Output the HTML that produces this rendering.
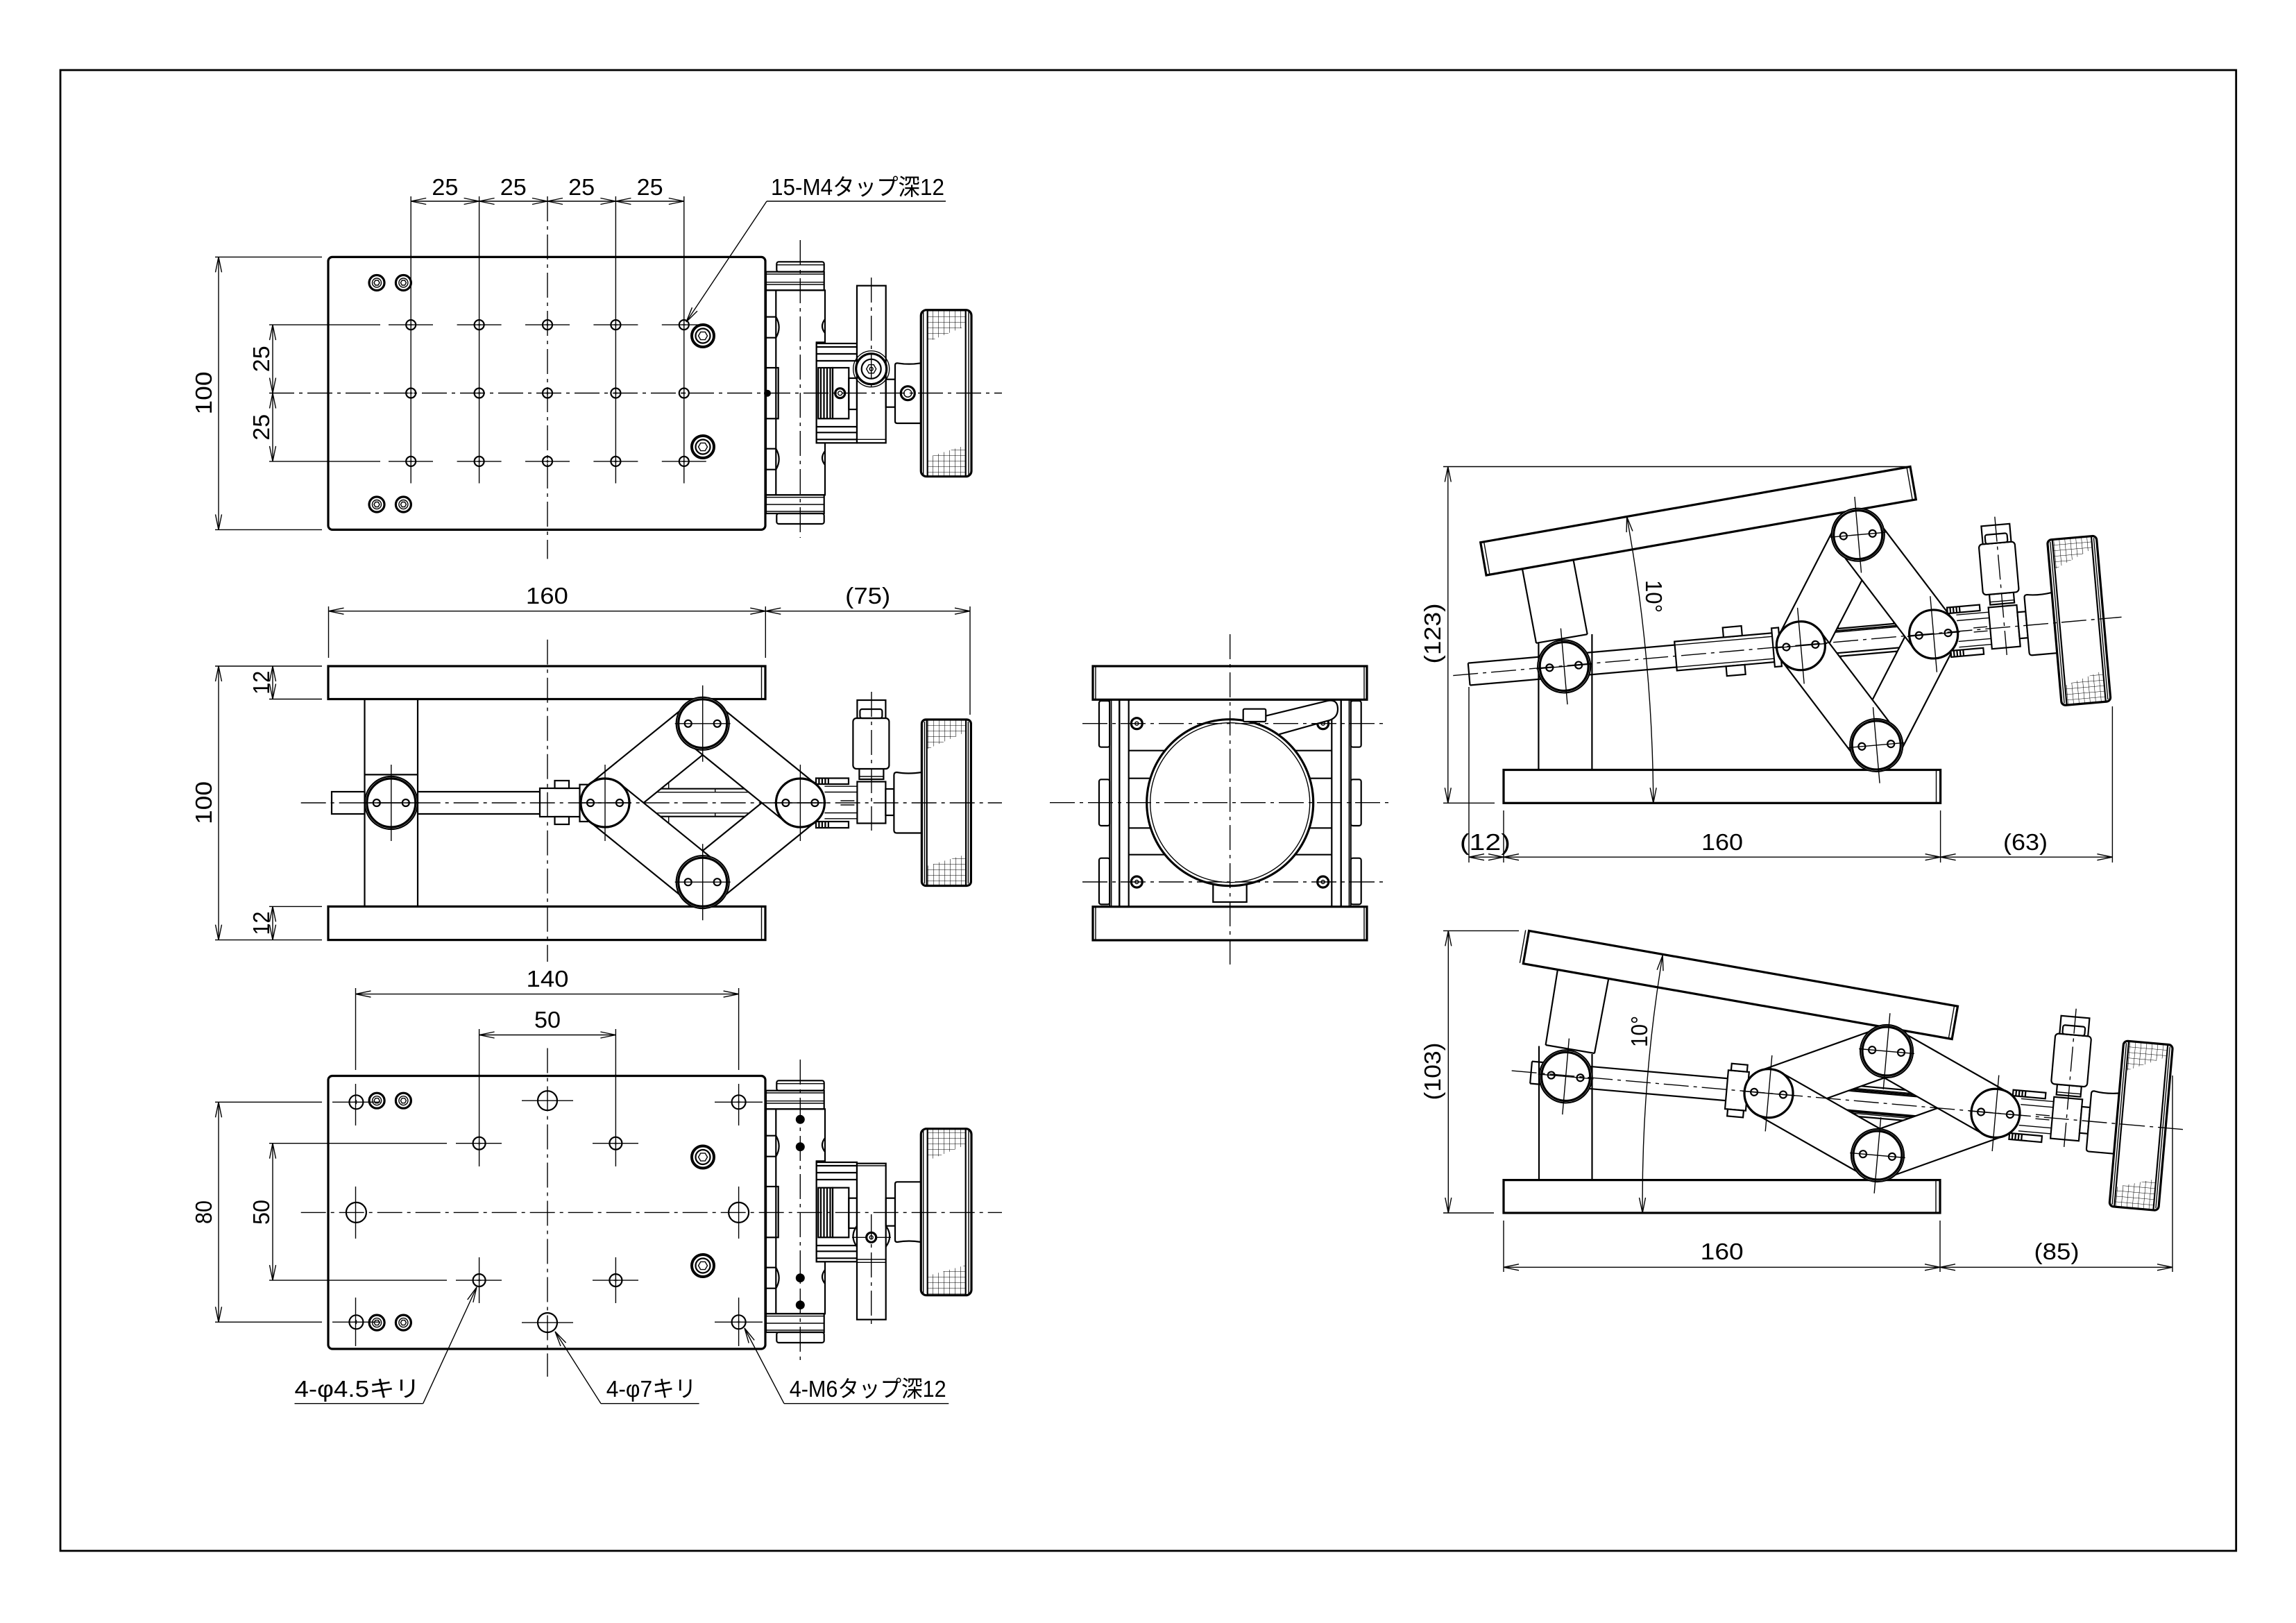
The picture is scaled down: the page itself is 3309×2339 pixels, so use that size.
<!DOCTYPE html>
<html><head><meta charset="utf-8"><style>
html,body{margin:0;padding:0;background:#fff;width:3309px;height:2339px;overflow:hidden}
svg{display:block}
.k{fill:none;stroke:#000;stroke-width:3.2}
.kw{fill:#fff;stroke:#000;stroke-width:3.2}
.m{fill:none;stroke:#000;stroke-width:2.2}
.mw{fill:#fff;stroke:#000;stroke-width:2.2}
.t{fill:none;stroke:#000;stroke-width:1.4}
.c{fill:none;stroke:#000;stroke-width:1.4;stroke-dasharray:36 7 5 7}
.d{fill:none;stroke:#000;stroke-width:1.4;marker-start:url(#a);marker-end:url(#a)}
.e{fill:none;stroke:#000;stroke-width:1.4;marker-end:url(#a)}
.lk{fill:#fff;stroke:none}
.f{fill:#000;stroke:none}
text{font-family:"Liberation Sans","Noto Sans CJK JP",sans-serif;font-size:33px;fill:#000}
.tm{text-anchor:middle}
</style></head><body>
<svg xmlns="http://www.w3.org/2000/svg" width="3309" height="2339" viewBox="0 0 3309 2339">
<defs>
<marker id="a" markerUnits="userSpaceOnUse" markerWidth="30" markerHeight="14" viewBox="-26 -7 30 14" refX="0" refY="0" orient="auto-start-reverse"><path d="M-22,-4.5L0,0L-22,4.5" fill="none" stroke="#000" stroke-width="1.4"/></marker>
<pattern id="kn" width="8" height="8" patternUnits="userSpaceOnUse"><path d="M0,0V8M0,0H8" stroke="#000" stroke-width="1.1"/></pattern>
<g id="s1"><circle r="11" class="k"/><circle r="6.5" class="t"/><polygon class="t" points="4,0 2,3.5 -2,3.5 -4,0 -2,-3.5 2,-3.5"/></g>
<g id="s2"><circle r="16" class="k" style="stroke-width:4"/><circle r="10.5" class="m"/><polygon class="t" points="6.5,0 3.25,5.6 -3.25,5.6 -6.5,0 -3.25,-5.6 3.25,-5.6"/></g>
<g id="h4"><circle r="7" class="m"/><path class="t" d="M-2.5,0H2.5M0,-2.5V2.5"/></g>
<g id="h45"><circle r="9" class="m"/><path class="t" d="M-3,0H3M0,-3V3"/></g>
<g id="h7"><circle r="14" class="m"/></g>
<g id="h6"><circle r="10" class="m"/><path class="t" d="M-3,0H3M0,-3V3"/></g>
<g id="dk"><circle r="35" class="kw"/><circle cx="-21" r="5" class="m"/><circle cx="21" r="5" class="m"/><path class="t" d="M-38,0H38M0,-55V55"/></g>
<g id="dr"><circle r="38" class="mw"/><circle r="35" class="kw"/><circle cx="-21" r="5" class="m"/><circle cx="21" r="5" class="m"/><path class="t" d="M-40,0H40M0,-55V55"/></g>
<g id="hs">
<path class="t" d="M35,-23.8H82M35,-15.5H82M35,14.5H82M35,22.8H82M58,-3H78M58,3H78"/>
<rect class="mw" x="22.6" y="-35.5" width="47" height="8.5"/>
<rect class="mw" x="22.6" y="27" width="47" height="9"/>
<path class="m" d="M27,-35.5v8.5M31.5,-35.5v8.5M36,-35.5v8.5M40.5,-35.5v8.5M27,27v9M31.5,27v9M36,27v9M40.5,27v9"/>
<rect class="mw" x="82" y="-30.5" width="41" height="60"/>
<rect class="mw" x="85" y="-49" width="35" height="15"/>
<path class="t" d="M85,-38H120"/>
<rect class="mw" x="76" y="-122" width="52" height="73" rx="5"/>
<rect class="mw" x="82" y="-148" width="41" height="26"/>
<rect class="mw" x="86" y="-135" width="32" height="13" rx="3"/>
<rect class="mw" x="123" y="-20" width="12" height="38"/>
<path class="mw" d="M139,-44Q155,-41 175,-44V43.5H139Q135,43.5 135,39.5V-40Q135,-44 139,-44Z"/>
<rect class="kw" x="175" y="-120" width="71" height="239.5" rx="6"/>
<path class="t" d="M179,-117V116.5M242,-117V116.5"/>
<path class="m" d="M182.3,-120V119.5M238.7,-120V119.5"/>
<polygon fill="url(#kn)" points="182.3,-119 238.7,-119 238.7,-102 182.3,-77"/>
<polygon fill="url(#kn)" points="182.3,91 238.7,74.4 238.7,118.5 182.3,118.5"/>
<line class="c" x1="102.6" y1="-160" x2="102.6" y2="40"/>
</g>
</defs>

<rect x="0" y="0" width="3309" height="2339" fill="#fff"/>
<rect x="87" y="101" width="3135.7" height="2134" fill="none" stroke="#000" stroke-width="2.8"/>

<!-- ================= TOP VIEW ================= -->
<rect class="k" x="473" y="370.4" width="630" height="393" rx="6"/>
<path class="t" d="M592.2,283V696.5M690.6,283V696.5M887.4,283V696.5M985.8,283V696.5"/>
<line class="c" x1="789" y1="283" x2="789" y2="805.5"/>
<line class="d" x1="592.2" y1="290" x2="690.6" y2="290"/>
<line class="d" x1="690.6" y1="290" x2="789" y2="290"/>
<line class="d" x1="789" y1="290" x2="887.4" y2="290"/>
<line class="d" x1="887.4" y1="290" x2="985.8" y2="290"/>
<text x="641.4" y="281" class="tm" textLength="38" lengthAdjust="spacingAndGlyphs">25</text>
<text x="739.8" y="281" class="tm" textLength="38" lengthAdjust="spacingAndGlyphs">25</text>
<text x="838.2" y="281" class="tm" textLength="38" lengthAdjust="spacingAndGlyphs">25</text>
<text x="936.6" y="281" class="tm" textLength="38" lengthAdjust="spacingAndGlyphs">25</text>
<path class="t" d="M1105,290H1363"/>
<line class="e" x1="1105" y1="290" x2="989" y2="464"/>
<text x="1111" y="281" textLength="250" lengthAdjust="spacingAndGlyphs">15-M4タップ深12</text>
<path class="t" d="M310,370.4H464M310,763.4H464M388,468.1H548M388,664.9H548"/>
<line class="d" x1="315" y1="370.4" x2="315" y2="763.4"/>
<line class="d" x1="393" y1="468.1" x2="393" y2="566.5"/>
<line class="d" x1="393" y1="566.5" x2="393" y2="664.9"/>
<text transform="translate(305,566.5) rotate(-90)" class="tm" textLength="62" lengthAdjust="spacingAndGlyphs">100</text>
<text transform="translate(388,517.3) rotate(-90)" class="tm" textLength="38" lengthAdjust="spacingAndGlyphs">25</text>
<text transform="translate(388,615.7) rotate(-90)" class="tm" textLength="38" lengthAdjust="spacingAndGlyphs">25</text>
<path class="t" d="M560,468.1H624M658.6,468.1H722.6M757,468.1H821M855.4,468.1H919.4M953.8,468.1H1017.8M560,664.9H624M658.6,664.9H722.6M757,664.9H821M855.4,664.9H919.4M953.8,664.9H1017.8"/>
<use href="#h4" x="592.2" y="468.1"/><use href="#h4" x="690.6" y="468.1"/><use href="#h4" x="789" y="468.1"/><use href="#h4" x="887.4" y="468.1"/><use href="#h4" x="985.8" y="468.1"/>
<use href="#h4" x="592.2" y="566.5"/><use href="#h4" x="690.6" y="566.5"/><use href="#h4" x="789" y="566.5"/><use href="#h4" x="887.4" y="566.5"/><use href="#h4" x="985.8" y="566.5"/>
<use href="#h4" x="592.2" y="664.9"/><use href="#h4" x="690.6" y="664.9"/><use href="#h4" x="789" y="664.9"/><use href="#h4" x="887.4" y="664.9"/><use href="#h4" x="985.8" y="664.9"/>
<use href="#s1" x="543" y="407.5"/><use href="#s1" x="581.4" y="407.5"/><use href="#s1" x="543" y="727"/><use href="#s1" x="581.4" y="727"/>
<use href="#s2" x="1013" y="484"/><use href="#s2" x="1013" y="644"/>
<rect class="m" x="1119.3" y="377.3" width="68.4" height="14.4" rx="3"/>
<line class="t" x1="1119.3" y1="381.7" x2="1187.7" y2="381.7"/>
<rect class="m" x="1104" y="391.7" width="83.7" height="26.6"/>
<path class="t" d="M1104,395H1187.7M1104,406.7H1187.7M1104,410H1187.7"/>
<path class="m" d="M1104,418.3V713.3M1118.3,418.3V713.3M1104,418.3H1189V493.3H1176.7V638.3H1189V713.3H1104"/>
<path class="m" d="M1104,456.7H1118.3M1104,486.7H1118.3M1104,646.7H1118.3M1104,676.7H1118.3M1118.3,456.7Q1127,471.7 1118.3,486.7M1118.3,646.7Q1127,661.7 1118.3,676.7M1189,460Q1181,470 1189,480M1189,650Q1181,660 1189,670"/>
<rect class="m" x="1104" y="530" width="17.7" height="73.3"/>
<circle class="f" cx="1106" cy="566.7" r="5"/>
<rect class="m" x="1104" y="713.3" width="83.7" height="26.7"/>
<path class="t" d="M1104,716.7H1187.7M1104,727H1187.7M1104,737H1187.7"/>
<rect class="m" x="1119.3" y="740" width="68.4" height="15" rx="3"/>
<rect class="mw" x="1176.7" y="495" width="58.3" height="143.3"/>
<path class="m" d="M1176.7,500H1235M1176.7,510H1235M1176.7,520H1235M1176.7,615H1235M1176.7,623.3H1235M1176.7,633.3H1235"/>
<rect class="m" x="1179.3" y="530" width="20.7" height="73.3"/>
<path class="m" d="M1183,530V603.3M1187.5,530V603.3M1192,530V603.3M1196.5,530V603.3"/>
<rect class="m" x="1200" y="530" width="23.3" height="73.3"/>
<circle class="k" cx="1210.7" cy="566.7" r="7"/><circle class="t" cx="1210.7" cy="566.7" r="3"/>
<rect class="m" x="1223.3" y="545" width="11.7" height="45"/>
<rect class="mw" x="1235" y="411.7" width="41.7" height="226.6"/>
<line class="t" x1="1235" y1="633.3" x2="1276.7" y2="633.3"/>
<circle class="t" cx="1255.7" cy="531.7" r="26"/>
<circle class="kw" cx="1255.7" cy="531.7" r="22"/>
<circle class="m" cx="1255.7" cy="531.7" r="14"/>
<polygon class="t" points="1262.7,531.7 1259.2,537.8 1252.2,537.8 1248.7,531.7 1252.2,525.6 1259.2,525.6"/>
<circle class="t" cx="1255.7" cy="531.7" r="2.5"/>
<line class="c" x1="1255.7" y1="400" x2="1255.7" y2="562"/>
<rect class="m" x="1276.7" y="546.7" width="13.3" height="40"/>
<path class="mw" d="M1293,523.3Q1310,526 1327.3,523.3V610H1293Q1290,610 1290,607V526.3Q1290,523.3 1293,523.3Z"/>
<circle class="k" cx="1308.3" cy="566.7" r="10"/><circle class="t" cx="1308.3" cy="566.7" r="5.5"/>
<rect class="kw" x="1327.3" y="446.7" width="72.7" height="240" rx="8"/>
<path class="t" d="M1330.7,449V684.4M1396,449V684.4"/>
<path class="m" d="M1336.7,447V686.7M1391.7,447V686.7"/>
<polygon fill="url(#kn)" points="1336.7,447.5 1391.7,447.5 1391.7,470 1343.3,490 1336.7,490"/>
<polygon fill="url(#kn)" points="1336.7,686 1391.7,686 1391.7,641.7 1343.3,656.7 1336.7,656.7"/>
<line class="c" x1="1153.3" y1="346" x2="1153.3" y2="775"/>
<line class="c" x1="388" y1="566.5" x2="1444" y2="566.5"/>

<!-- ================= SIDE VIEW ================= -->
<rect class="k" x="473" y="960" width="630" height="47.5"/>
<line class="t" x1="1097.5" y1="960" x2="1097.5" y2="1007.5"/>
<rect class="k" x="473" y="1306.4" width="630" height="48.2"/>
<line class="t" x1="1097.5" y1="1306.4" x2="1097.5" y2="1354.6"/>
<path class="m" d="M525.5,1007.5V1306.4M602,1007.5V1306.4M525.5,1116.4H602"/>
<rect class="mw" x="478" y="1141" width="47.5" height="32"/>
<path class="m" d="M602,1141H778M602,1173H778"/>
<rect class="mw" x="778" y="1136" width="61" height="41"/>
<rect class="mw" x="799.5" y="1125" width="20.5" height="11"/>
<rect class="mw" x="799.5" y="1177" width="20.5" height="11"/>
<rect class="mw" x="835.5" y="1130.7" width="11.5" height="53.3"/>
<use href="#dr" x="563.8" y="1157"/>
<g transform="translate(1012.7,1157)">
<path class="m" d="M-140,-20.3H140M-140,19.7H140"/>
<path class="t" d="M-140,-15.3H140M-140,14.7H140M-49,-30V-20M-49,20V30M18,-20.3V-15.3M18,14.7V19.7"/>
<polygon class="lk" points="-118.64,27.18 22.06,-87.02 -22.06,-141.38 -162.76,-27.18"/>
<path class="m" d="M-118.64,27.18L22.06,-87.02M-162.76,-27.18L-22.06,-141.38"/>
<polygon class="lk" points="-22.06,87.02 118.64,-27.18 162.76,27.18 22.06,141.38"/>
<path class="m" d="M-22.06,87.02L118.64,-27.18M22.06,141.38L162.76,27.18"/>
<polygon class="lk" points="-22.06,-87.02 118.64,27.18 162.76,-27.18 22.06,-141.38"/>
<path class="m" d="M-22.06,-87.02L118.64,27.18M22.06,-141.38L162.76,-27.18"/>
<polygon class="lk" points="-118.64,-27.18 22.06,87.02 -22.06,141.38 -162.76,27.18"/>
<path class="m" d="M-118.64,-27.18L22.06,87.02M-162.76,27.18L-22.06,141.38"/>
<use href="#dk" x="-140.7" y="0"/>
<use href="#dk" x="140.7" y="0"/>
<use href="#dr" x="0" y="-114.2"/>
<use href="#dr" x="0" y="114.2"/>
</g>
<use href="#hs" x="1153.4" y="1157"/>
<line class="c" x1="433.7" y1="1157" x2="1444" y2="1157"/>
<line class="c" x1="789" y1="921.8" x2="789" y2="1386"/>
<path class="t" d="M473.5,874V948M1103.3,874V948M1398,874V1030"/>
<line class="d" x1="473.5" y1="880.7" x2="1103.3" y2="880.7"/>
<line class="d" x1="1103.3" y1="880.7" x2="1398" y2="880.7"/>
<text x="788.4" y="870" class="tm" textLength="61" lengthAdjust="spacingAndGlyphs">160</text>
<text x="1250.7" y="870" class="tm" textLength="65" lengthAdjust="spacingAndGlyphs">(75)</text>
<path class="t" d="M310,960H464M388,1007.5H464M388,1306.4H464M310,1354.6H464"/>
<line class="d" x1="315" y1="960" x2="315" y2="1354.6"/>
<line class="d" x1="393" y1="960" x2="393" y2="1007.5"/>
<line class="d" x1="393" y1="1306.4" x2="393" y2="1354.6"/>
<text transform="translate(305,1157) rotate(-90)" class="tm" textLength="62" lengthAdjust="spacingAndGlyphs">100</text>
<text transform="translate(388,983.7) rotate(-90)" class="tm" textLength="34" lengthAdjust="spacingAndGlyphs">12</text>
<text transform="translate(388,1330.5) rotate(-90)" class="tm" textLength="34" lengthAdjust="spacingAndGlyphs">12</text>

<!-- ================= BOTTOM VIEW ================= -->
<rect class="k" x="473" y="1550.5" width="630" height="393.5" rx="6"/>
<path class="t" d="M512.5,1424V1542M1064.6,1424V1542M690.6,1483V1681M887.4,1483V1681"/>
<line class="d" x1="512.5" y1="1432.6" x2="1064.6" y2="1432.6"/>
<line class="d" x1="690.6" y1="1491.5" x2="887.4" y2="1491.5"/>
<text x="789" y="1422" class="tm" textLength="61" lengthAdjust="spacingAndGlyphs">140</text>
<text x="789" y="1481" class="tm" textLength="38" lengthAdjust="spacingAndGlyphs">50</text>
<path class="t" d="M310,1588.3H464M310,1905.3H464M388,1647.7H644M388,1845.1H644"/>
<line class="d" x1="315" y1="1588.3" x2="315" y2="1905.3"/>
<line class="d" x1="393" y1="1647.7" x2="393" y2="1845.1"/>
<text transform="translate(305,1747) rotate(-90)" class="tm" textLength="34" lengthAdjust="spacingAndGlyphs">80</text>
<text transform="translate(388,1747) rotate(-90)" class="tm" textLength="36" lengthAdjust="spacingAndGlyphs">50</text>
<path class="t" d="M657,1647.7H723M854,1647.7H920M657,1845.1H723M854,1845.1H920M690.6,1812V1878M887.4,1812V1878M752,1586.2H826M752,1906.1H826M479,1588.3H548M1030,1588.3H1099M479,1905.3H548M1030,1905.3H1099M512.5,1562V1622M1064.6,1562V1622M512.5,1870V1940M1064.6,1870V1940M512.5,1710V1785M1064.6,1710V1785"/>
<use href="#h45" x="690.6" y="1647.7"/><use href="#h45" x="887.4" y="1647.7"/><use href="#h45" x="690.6" y="1845.1"/><use href="#h45" x="887.4" y="1845.1"/>
<use href="#h7" x="789" y="1586.2"/><use href="#h7" x="789" y="1906.1"/>
<circle class="m" cx="513.4" cy="1747.4" r="14.5"/><circle class="m" cx="1064.6" cy="1747.4" r="14.5"/>
<use href="#h6" x="513.4" y="1588.3"/><use href="#h6" x="1064.6" y="1588.3"/><use href="#h6" x="513.4" y="1905.3"/><use href="#h6" x="1064.6" y="1905.3"/>
<use href="#s1" x="543.1" y="1586.2"/><use href="#s1" x="581.4" y="1586.2"/><use href="#s1" x="543.1" y="1906.1"/><use href="#s1" x="581.4" y="1906.1"/>
<use href="#s2" x="1013" y="1667.5"/><use href="#s2" x="1013" y="1824"/>
<path class="t" d="M424.5,2022.7H609.7M866,2022.7H1007.6M1130,2022.7H1367.3"/>
<line class="e" x1="609.7" y1="2022.7" x2="687" y2="1855"/>
<line class="e" x1="866" y1="2022.7" x2="800" y2="1919"/>
<line class="e" x1="1130" y1="2022.7" x2="1073" y2="1914"/>
<text x="424.5" y="2013" textLength="181" lengthAdjust="spacingAndGlyphs">4-φ4.5キリ</text>
<text x="873.7" y="2013" textLength="130" lengthAdjust="spacingAndGlyphs">4-φ7キリ</text>
<text x="1137.7" y="2013" textLength="226" lengthAdjust="spacingAndGlyphs">4-M6タップ深12</text>
<rect class="m" x="1119.3" y="1557.3" width="68.4" height="14.4" rx="3"/>
<line class="t" x1="1119.3" y1="1561.7" x2="1187.7" y2="1561.7"/>
<rect class="m" x="1104" y="1571.7" width="83.7" height="26.6"/>
<path class="t" d="M1104,1575H1187.7M1104,1586.7H1187.7M1104,1590H1187.7"/>
<path class="m" d="M1104,1598.3V1893.3M1118.3,1598.3V1893.3M1104,1598.3H1189V1673.3H1176.7V1818.3H1189V1893.3H1104"/>
<path class="m" d="M1104,1636.7H1118.3M1104,1666.7H1118.3M1104,1826.7H1118.3M1104,1856.7H1118.3M1118.3,1636.7Q1127,1651.7 1118.3,1666.7M1118.3,1826.7Q1127,1841.7 1118.3,1856.7M1189,1640Q1181,1650 1189,1660M1189,1830Q1181,1840 1189,1850"/>
<rect class="m" x="1104" y="1710" width="17.7" height="73.3"/>
<circle class="f" cx="1153.3" cy="1613.3" r="6.5"/><circle class="f" cx="1153.3" cy="1652.7" r="6.5"/><circle class="f" cx="1153.3" cy="1841.7" r="6.5"/><circle class="f" cx="1153.3" cy="1880.7" r="6.5"/>
<rect class="m" x="1104" y="1893.3" width="83.7" height="26.7"/>
<path class="t" d="M1104,1896.7H1187.7M1104,1907H1187.7M1104,1917H1187.7"/>
<rect class="m" x="1119.3" y="1920" width="68.4" height="15" rx="3"/>
<rect class="mw" x="1176.7" y="1675" width="58.3" height="143.3"/>
<path class="m" d="M1176.7,1680H1235M1176.7,1690H1235M1176.7,1700H1235M1176.7,1795H1235M1176.7,1803.3H1235M1176.7,1813.3H1235"/>
<rect class="m" x="1179.3" y="1711.7" width="20.7" height="71.6"/>
<path class="m" d="M1183,1711.7V1783.3M1187.5,1711.7V1783.3M1192,1711.7V1783.3M1196.5,1711.7V1783.3"/>
<rect class="m" x="1200" y="1711.7" width="23.3" height="71.6"/>
<rect class="m" x="1223.3" y="1726.7" width="11.7" height="43.3"/>
<rect class="mw" x="1235" y="1676.7" width="41.7" height="225"/>
<path class="t" d="M1235,1680H1276.7M1235,1815H1276.7M1235,1819.3H1276.7M1228,1783.3H1284"/>
<path class="m" d="M1235,1766.7Q1224,1781.7 1235,1796.7M1276.7,1766.7Q1287.7,1781.7 1276.7,1796.7"/>
<circle class="kw" cx="1255.7" cy="1783.3" r="7"/><circle class="t" cx="1255.7" cy="1783.3" r="2.5"/>
<line class="c" x1="1255.7" y1="1750" x2="1255.7" y2="1910"/>
<rect class="m" x="1276.7" y="1726.7" width="13.3" height="40"/>
<path class="mw" d="M1293,1703.3H1327.3V1790Q1310,1787 1293,1790Q1290,1790 1290,1787V1706.3Q1290,1703.3 1293,1703.3Z"/>
<rect class="kw" x="1327.3" y="1626.7" width="72.7" height="240" rx="8"/>
<path class="t" d="M1330.7,1629V1864.4M1396,1629V1864.4"/>
<path class="m" d="M1336.7,1627V1866.7M1391.7,1627V1866.7"/>
<polygon fill="url(#kn)" points="1336.7,1627.5 1391.7,1627.5 1391.7,1650 1343.3,1670 1336.7,1670"/>
<polygon fill="url(#kn)" points="1336.7,1866 1391.7,1866 1391.7,1823.3 1343.3,1836.7 1336.7,1836.7"/>
<line class="c" x1="1153.3" y1="1527" x2="1153.3" y2="1967"/>
<line class="c" x1="433.7" y1="1747.4" x2="1444" y2="1747.4"/>
<line class="c" x1="789" y1="1510.5" x2="789" y2="1984"/>

<!-- ================= FRONT VIEW ================= -->
<path class="m" d="M1626.7,1081.7H1919.3M1626.7,1121.7H1919.3M1626.7,1193.3H1919.3M1626.7,1231.7H1919.3"/>
<rect class="m" x="1599.3" y="1008.3" width="14" height="298.4"/>
<rect class="m" x="1613.3" y="1008.3" width="13.4" height="298.4"/>
<line class="t" x1="1601.7" y1="1008.3" x2="1601.7" y2="1306.7"/>
<rect class="m" x="1584" y="1010" width="15.3" height="66.7" rx="3"/>
<rect class="m" x="1584" y="1123.3" width="15.3" height="66.7" rx="3"/>
<rect class="m" x="1584" y="1236.7" width="15.3" height="66.7" rx="3"/>
<rect class="m" x="1919.3" y="1008.3" width="13.4" height="298.4"/>
<rect class="m" x="1932.7" y="1008.3" width="14" height="298.4"/>
<line class="t" x1="1944.3" y1="1008.3" x2="1944.3" y2="1306.7"/>
<rect class="m" x="1946.7" y="1010" width="15" height="66.7" rx="3"/>
<rect class="m" x="1946.7" y="1123.3" width="15" height="66.7" rx="3"/>
<rect class="m" x="1946.7" y="1236.7" width="15" height="66.7" rx="3"/>
<circle class="k" cx="1638.3" cy="1042.7" r="8"/><circle class="t" cx="1638.3" cy="1042.7" r="2.5"/>
<circle class="k" cx="1906.7" cy="1042.7" r="8"/><circle class="t" cx="1906.7" cy="1042.7" r="2.5"/>
<circle class="k" cx="1638.3" cy="1271" r="8"/><circle class="t" cx="1638.3" cy="1271" r="2.5"/>
<circle class="k" cx="1906.7" cy="1271" r="8"/><circle class="t" cx="1906.7" cy="1271" r="2.5"/>
<rect class="mw" x="1748.3" y="1275" width="48.4" height="25"/>
<circle class="kw" cx="1772.7" cy="1156.7" r="120"/>
<circle class="t" cx="1772.7" cy="1156.7" r="115"/>
<path class="mw" d="M1824.3,1031.7L1913,1010Q1928,1007 1928,1022Q1928,1034 1916,1038L1843.3,1058.3"/>
<rect class="mw" x="1791.7" y="1021.7" width="32.6" height="18.3" rx="2"/>
<rect class="kw" x="1575" y="960" width="395" height="48.3"/>
<path class="t" d="M1579,960V1008.3M1966,960V1008.3"/>
<rect class="kw" x="1575" y="1306.7" width="395" height="48.3"/>
<path class="t" d="M1579,1306.7V1355M1966,1306.7V1355"/>
<line class="c" x1="1772.7" y1="914" x2="1772.7" y2="1393"/>
<line class="c" x1="1560" y1="1042.7" x2="1993" y2="1042.7"/>
<line class="c" x1="1513" y1="1156.7" x2="2006" y2="1156.7"/>
<line class="c" x1="1560" y1="1271" x2="1993" y2="1271"/>

<!-- ================= RIGHT TOP (tilted up) ================= -->
<rect class="kw" x="2167" y="1109.5" width="629.6" height="47.8"/>
<line class="t" x1="2790.5" y1="1109.5" x2="2790.5" y2="1157.3"/>
<path class="m" d="M2217.4,1109.5V927M2294.4,1109.5V914M2214,926.8L2194,820M2287.7,914.1L2267.6,807.2M2214,926.8L2287.7,914.1"/>
<polygon class="kw" points="2133.7,781.7 2753,672.5 2761.3,719.8 2142,829"/>
<path class="t" d="M2138.6,780.8L2147,828.1M2748,673.4L2756.3,720.7"/>
<g transform="translate(2786.6,913) rotate(-5)">
<path class="m" d="M-672,-16H-40M-672,16H-40M-672,-16V16"/>
<rect class="mw" x="-373" y="-21" width="145" height="42"/>
<path class="t" d="M-373,-16H-228M-373,16H-228"/>
<rect class="mw" x="-302" y="-35" width="27" height="14"/>
<rect class="mw" x="-302" y="21" width="27" height="14"/>
<rect class="mw" x="-232" y="-28" width="10" height="56"/>
</g>
<g transform="translate(2254.2,960.4) rotate(-5)"><use href="#dr"/></g>
<g transform="translate(2691,922.3) rotate(-5)">
<path class="m" d="M-96,-20H96M-96,20H96"/>
<path class="t" d="M-96,-15H96M-96,15H96M-40,-45V-20M-40,20V45M40,-45V-20M40,20V45"/>
<polygon class="lk" points="-66.4,18.67 29.6,-133.53 -29.6,-170.87 -125.6,-18.67"/>
<path class="m" d="M-66.4,18.67L29.6,-133.53M-125.6,-18.67L-29.6,-170.87"/>
<polygon class="lk" points="-29.6,133.53 66.4,-18.67 125.6,18.67 29.6,170.87"/>
<path class="m" d="M-29.6,133.53L66.4,-18.67M29.6,170.87L125.6,18.67"/>
<polygon class="lk" points="-29.6,-133.53 66.4,18.67 125.6,-18.67 29.6,-170.87"/>
<path class="m" d="M-29.6,-133.53L66.4,18.67M29.6,-170.87L125.6,-18.67"/>
<polygon class="lk" points="-66.4,-18.67 29.6,133.53 -29.6,170.87 -125.6,18.67"/>
<path class="m" d="M-66.4,-18.67L29.6,133.53M-125.6,18.67L-29.6,170.87"/>
<use href="#dk" x="-96" y="0"/>
<use href="#dk" x="96" y="0"/>
<use href="#dr" x="0" y="-152.2"/>
<use href="#dr" x="0" y="152.2"/>
</g>
<g transform="translate(2786.6,913) rotate(-5)">
<use href="#hs"/>
<line class="c" x1="-695" y1="0" x2="272" y2="0"/>
</g>
<path class="t" d="M2080,672.5H2753M2080,1157.3H2154"/>
<line class="d" x1="2086.8" y1="672.5" x2="2086.8" y2="1157.3"/>
<text transform="translate(2076,913) rotate(-90)" class="tm" textLength="87" lengthAdjust="spacingAndGlyphs">(123)</text>
<path class="t" d="M2117,990V1243M2167,1168V1243M2796.6,1168V1243M3044.4,1018V1243"/>
<line class="d" x1="2117" y1="1235.2" x2="2167" y2="1235.2"/>
<line class="d" x1="2167" y1="1235.2" x2="2796.6" y2="1235.2"/>
<line class="d" x1="2796.6" y1="1235.2" x2="3044.4" y2="1235.2"/>
<text x="2140.4" y="1225" class="tm" textLength="73" lengthAdjust="spacingAndGlyphs">(12)</text>
<text x="2482" y="1225" class="tm" textLength="60" lengthAdjust="spacingAndGlyphs">160</text>
<text x="2919" y="1225" class="tm" textLength="64" lengthAdjust="spacingAndGlyphs">(63)</text>
<path class="d" d="M2344.6,744.6A2379,2379 0 0 1 2382.8,1157.3"/>
<text transform="translate(2372,836) rotate(90)" textLength="47" lengthAdjust="spacingAndGlyphs">10°</text>

<!-- ================= RIGHT BOTTOM (tilted down) ================= -->
<rect class="kw" x="2167" y="1700.6" width="629" height="47.4"/>
<line class="t" x1="2790" y1="1700.6" x2="2790" y2="1748"/>
<path class="m" d="M2218,1700.6V1507.5M2294.5,1700.6V1519M2227.6,1506L2245,1396.8M2298,1518L2318.4,1409.7M2227.6,1506L2298,1518"/>
<polygon class="kw" points="2203.6,1341.4 2821.5,1450.2 2813.2,1497.5 2195.3,1388.7"/>
<path class="t" d="M2198.7,1340.5L2190.4,1387.8M2816.6,1449.3L2808.3,1496.6"/>
<g transform="translate(2876,1604.1) rotate(5)">
<path class="m" d="M-672,-16H-40M-672,16H-40M-672,-16V16"/>
<rect class="mw" x="-389" y="-28" width="30" height="56"/>
<rect class="mw" x="-385" y="-38" width="23" height="10"/>
<rect class="mw" x="-385" y="28" width="23" height="10"/>
</g>
<g transform="translate(2256.6,1551.4) rotate(5)"><use href="#dr"/></g>
<g transform="translate(2712.5,1590) rotate(5)">
<path class="m" d="M-164,-22H164M-164,-14H164M-164,14H164M-164,22H164"/>
<path class="t" d="M-164,-18H164M-164,18H164"/>
<polygon class="lk" points="-149.5,31.81 14.6,-43.49 -14.6,-107.11 -178.7,-31.81"/>
<path class="m" d="M-149.5,31.81L14.6,-43.49M-178.7,-31.81L-14.6,-107.11"/>
<polygon class="lk" points="-14.6,43.49 149.5,-31.81 178.7,31.81 14.6,107.11"/>
<path class="m" d="M-14.6,43.49L149.5,-31.81M14.6,107.11L178.7,31.81"/>
<polygon class="lk" points="-14.6,-43.49 149.5,31.81 178.7,-31.81 14.6,-107.11"/>
<path class="m" d="M-14.6,-43.49L149.5,31.81M14.6,-107.11L178.7,-31.81"/>
<polygon class="lk" points="-149.5,-31.81 14.6,43.49 -14.6,107.11 -178.7,31.81"/>
<path class="m" d="M-149.5,-31.81L14.6,43.49M-178.7,31.81L-14.6,107.11"/>
<use href="#dk" x="-164.1" y="0"/>
<use href="#dk" x="164.1" y="0"/>
<use href="#dr" x="0" y="-75.3"/>
<use href="#dr" x="0" y="75.3"/>
</g>
<g transform="translate(2876,1604.1) rotate(5)">
<use href="#hs"/>
<line class="c" x1="-700" y1="0" x2="272" y2="0"/>
</g>
<path class="t" d="M2080,1341.4H2189M2080,1748H2153"/>
<line class="d" x1="2087.3" y1="1341.4" x2="2087.3" y2="1748"/>
<text transform="translate(2076,1544) rotate(-90)" class="tm" textLength="83" lengthAdjust="spacingAndGlyphs">(103)</text>
<path class="t" d="M2167,1759V1833M2796,1759V1833M3131,1550V1833"/>
<line class="d" x1="2167" y1="1826.3" x2="2796" y2="1826.3"/>
<line class="d" x1="2796" y1="1826.3" x2="3131" y2="1826.3"/>
<text x="2481.7" y="1815" class="tm" textLength="62" lengthAdjust="spacingAndGlyphs">160</text>
<text x="2964" y="1815" class="tm" textLength="65" lengthAdjust="spacingAndGlyphs">(85)</text>
<path class="d" d="M2396.2,1376.8A2147,2147 0 0 0 2367.2,1748"/>
<text transform="translate(2374,1509) rotate(-90)" textLength="45" lengthAdjust="spacingAndGlyphs">10°</text>
</svg>
</body></html>
